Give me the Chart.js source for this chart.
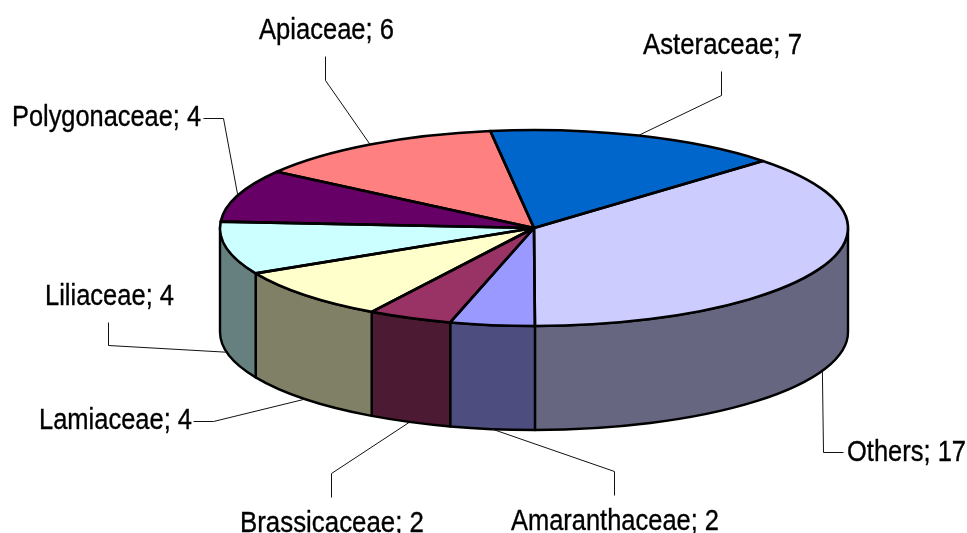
<!DOCTYPE html>
<html>
<head>
<meta charset="utf-8">
<style>html,body{margin:0;padding:0;background:#fff;overflow:hidden}canvas{display:block}</style>
<script src="https://cdn.jsdelivr.net/npm/chart.js@4/dist/chart.umd.min.js"></script>
</head>
<body>
<canvas id="c" width="967" height="533"></canvas>
<script>
const categories = ['Asteraceae','Others','Amaranthaceae','Brassicaceae','Lamiaceae','Liliaceae','Polygonaceae','Apiaceae'];
const values = [7,17,2,2,4,4,4,6];
const colors = ['#0066CC','#CCCCFF','#9999FF','#993366','#FFFFCC','#CCFFFF','#660066','#FF8080'];

// label placement, in the same order as categories
const labelLeft = [643,847,511,240,39,45,12,259];
const labelBaseline = [54,461,530,532,429,305,126,39];
const labelWidth = [159,119,208,184,153,129,189,135];
const leaderStart = [[721,71],[843,452],[614,495],[331,497],[193,421],[108,322],[203,118],[325,56]];
const leaderElbow = [[721,95],[823,452],[614,471],[331,473],[213,421],[108,345],[223,118],[325,80]];

const RX = 314, RY = 98, DEPTH = 104;
const halve = hex => '#' + [1,3,5].map(i => Math.round(parseInt(hex.substr(i,2),16)/2).toString(16).padStart(2,'0')).join('');

const pie3d = {
  id: 'pie3d',
  beforeDatasetsDraw(chart) {
    const ctx = chart.ctx, arcs = chart.getDatasetMeta(0).data;
    const cx = arcs[0].x, cy = arcs[0].y, R = arcs[0].outerRadius;
    ctx.save();
    ctx.lineWidth = 2.4; ctx.lineJoin = 'round'; ctx.strokeStyle = '#000';
    const TWO = Math.PI * 2;
    arcs.forEach((arc, i) => {
      [-TWO, 0, TWO].forEach(shift => {
        const a = Math.max(arc.startAngle + shift, 0), b = Math.min(arc.endAngle + shift, Math.PI);
        if (b <= a) return;
        ctx.beginPath();
        ctx.ellipse(cx, cy, RX, RY, 0, a, b);
        ctx.ellipse(cx, cy + DEPTH, RX, RY, 0, b, a, true);
        ctx.closePath();
        ctx.fillStyle = halve(colors[i]);
        ctx.fill();
        ctx.stroke();
      });
    });
    ctx.restore();
    // flatten the library's own pie into the tilted top face
    ctx.save();
    ctx.translate(cx, cy);
    ctx.scale(RX / R, RY / R);
    ctx.translate(-cx, -cy);
  },
  afterDatasetsDraw(chart) {
    const ctx = chart.ctx, arcs = chart.getDatasetMeta(0).data;
    ctx.restore();
    const cx = arcs[0].x, cy = arcs[0].y;
    ctx.save();
    ctx.strokeStyle = '#000'; ctx.lineJoin = 'round';
    ctx.lineWidth = 2.6;
    arcs.forEach(arc => {
      ctx.beginPath();
      ctx.moveTo(cx, cy);
      ctx.ellipse(cx, cy, RX, RY, 0, arc.startAngle, arc.endAngle);
      ctx.closePath();
      ctx.stroke();
    });
    // leaders and labels
    ctx.lineWidth = 1; ctx.lineJoin = 'miter';
    ctx.strokeStyle = '#111';
    arcs.forEach((arc, i) => {
      const mid = (arc.startAngle + arc.endAngle) / 2;
      const ex = cx + RX * Math.cos(mid);
      const ey = cy + RY * Math.sin(mid) + (Math.sin(mid) > 0 ? DEPTH : 0);
      ctx.beginPath();
      ctx.moveTo(leaderStart[i][0] + .5, leaderStart[i][1] + .5);
      ctx.lineTo(leaderElbow[i][0] + .5, leaderElbow[i][1] + .5);
      ctx.lineTo(ex, ey);
      ctx.stroke();
    });
    ctx.fillStyle = '#000';
    ctx.strokeStyle = '#000';
    ctx.lineWidth = 0.35;
    ctx.font = '29px "Liberation Sans", Arial, sans-serif';
    ctx.textAlign = 'left'; ctx.textBaseline = 'alphabetic';
    categories.forEach((name, i) => {
      const text = name + '; ' + values[i];
      ctx.fillText(text, labelLeft[i], labelBaseline[i], labelWidth[i]);
      ctx.strokeText(text, labelLeft[i], labelBaseline[i], labelWidth[i]);
    });
    ctx.restore();
  }
};

new Chart(document.getElementById('c'), {
  type: 'pie',
  data: {
    labels: categories,
    datasets: [{ data: values, backgroundColor: colors, borderWidth: 0, clip: false }]
  },
  options: {
    responsive: false,
    animation: false,
    rotation: -8,
    layout: { padding: { left: 101, right: 0, top: 0, bottom: 77 } },
    plugins: { legend: { display: false }, tooltip: { enabled: false } }
  },
  plugins: [pie3d]
});
</script>
</body>
</html>
